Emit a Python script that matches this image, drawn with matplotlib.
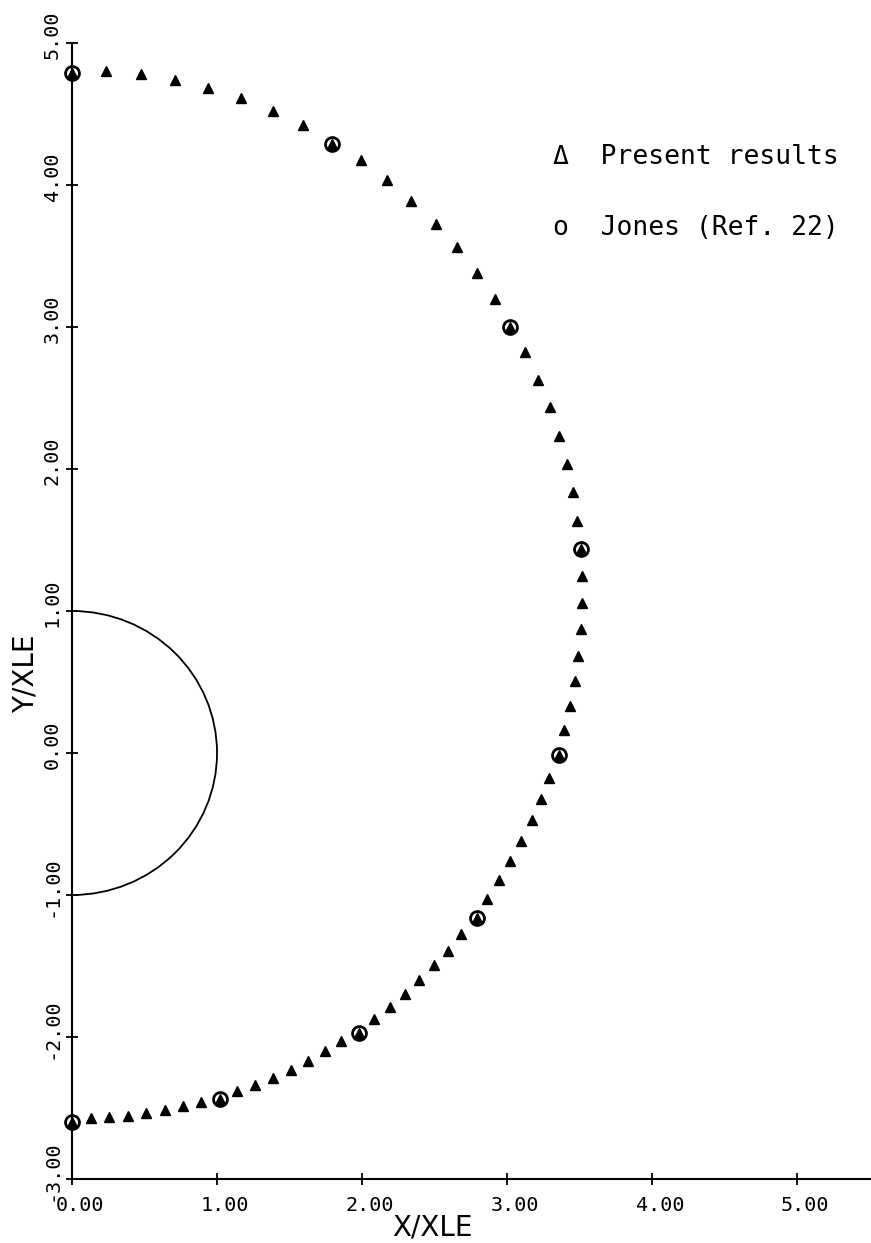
import matplotlib
matplotlib.use("Agg")
import matplotlib.pyplot as plt
import matplotlib.transforms as mtransforms
from matplotlib.patches import Arc
from matplotlib.ticker import FormatStrFormatter

# ---- data ----
present_x = [0.0, 0.236, 0.476, 0.707, 0.935, 1.165, 1.383, 1.59, 1.796, 1.99, 2.17,
             2.336, 2.508, 2.653, 2.79, 2.915, 3.022, 3.126, 3.217, 3.294, 3.356,
             3.412, 3.452, 3.482, 3.512, 3.515, 3.519, 3.51, 3.492, 3.466, 3.432,
             3.393, 3.357, 3.291, 3.234, 3.17, 3.097, 3.02, 2.948, 2.863, 2.793,
             2.686, 2.592, 2.497, 2.392, 2.294, 2.19, 2.08, 1.981, 1.858, 1.745,
             1.626, 1.508, 1.384, 1.262, 1.138, 1.022, 0.891, 0.765, 0.638, 0.512,
             0.386, 0.257, 0.132, 0.0]
present_y = [4.79, 4.805, 4.78, 4.74, 4.68, 4.61, 4.52, 4.42, 4.29, 4.176, 4.035,
             3.89, 3.725, 3.56, 3.38, 3.20, 3.00, 2.826, 2.63, 2.434, 2.235,
             2.035, 1.836, 1.636, 1.44, 1.249, 1.058, 0.873, 0.685, 0.507, 0.333,
             0.162, -0.014, -0.174, -0.324, -0.47, -0.622, -0.763, -0.896, -1.028, -1.164,
             -1.275, -1.392, -1.495, -1.601, -1.697, -1.79, -1.874, -1.97, -2.03, -2.099,
             -2.167, -2.23, -2.287, -2.338, -2.382, -2.439, -2.458, -2.486, -2.512, -2.535,
             -2.554, -2.563, -2.568, -2.597]

jones_x = [0.0, 1.796, 3.022, 3.512, 3.357, 2.793, 1.981, 1.022, 0.0]
jones_y = [4.79, 4.29, 3.00, 1.44, -0.014, -1.164, -1.97, -2.439, -2.597]

body_radius = 1.0
x_ticks = [0, 1, 2, 3, 4, 5]
y_ticks = [-3, -2, -1, 0, 1, 2, 3, 4, 5]
legend_labels = ["\u0394  Present results", "o  Jones (Ref. 22)"]
x_label = "X/XLE"
y_label = "Y/XLE"

# ---- figure ----
fig = plt.figure(figsize=(8.71, 12.43), dpi=100)
ax = fig.add_axes([0.0827, 0.0515, 0.9156, 0.9139])

ax.set_xlim(0, 5.5)
ax.set_ylim(-3, 5)

for s in ["top", "right"]:
    ax.spines[s].set_visible(False)
for s in ["left", "bottom"]:
    ax.spines[s].set_linewidth(1.5)

# body (semicircle)
ax.add_patch(Arc((0, 0), 2 * body_radius, 2 * body_radius, theta1=-90, theta2=90,
                 color="black", lw=1.3, zorder=2))

ax.plot(present_x, present_y, linestyle="none", marker="^", ms=6.5,
        color="black", zorder=3, clip_on=False)
ax.plot(jones_x, jones_y, linestyle="none", marker="o", ms=10,
        mfc="none", mec="black", mew=2.0, zorder=4, clip_on=False)

ax.set_xticks(x_ticks)
ax.set_yticks(y_ticks)
ax.xaxis.set_major_formatter(FormatStrFormatter("%.2f"))
ax.yaxis.set_major_formatter(FormatStrFormatter("%.2f"))
ax.tick_params(direction="inout", length=9, width=1.3, labelsize=14.5)
ax.tick_params(axis="x", pad=8)
ax.tick_params(axis="y", pad=3)

dx = mtransforms.ScaledTranslation(0.08, 0, fig.dpi_scale_trans)
dy = mtransforms.ScaledTranslation(0, 0.08, fig.dpi_scale_trans)
for t in ax.xaxis.get_major_ticks():
    t.label1.set_fontfamily("DejaVu Sans Mono")
    t.label1.set_transform(t.label1.get_transform() + dx)
for t in ax.yaxis.get_major_ticks():
    t.label1.set_fontfamily("DejaVu Sans Mono")
    t.label1.set_rotation(90)
    t.label1.set_va("center")
    t.label1.set_transform(t.label1.get_transform() + dy)

fig.text(432 / 871, 1 - 1228 / 1243, x_label, ha="center", va="center",
         fontsize=20, family="DejaVu Sans")
fig.text(26 / 871, 1 - 674 / 1243, y_label, ha="center", va="center",
         fontsize=20, family="DejaVu Sans", rotation=90)

ax.text(3.32, 4.20, legend_labels[0], family="DejaVu Sans Mono", fontsize=19,
        va="center", ha="left")
ax.text(3.32, 3.70, legend_labels[1], family="DejaVu Sans Mono", fontsize=19,
        va="center", ha="left")

fig.savefig("out.png", dpi=100)
